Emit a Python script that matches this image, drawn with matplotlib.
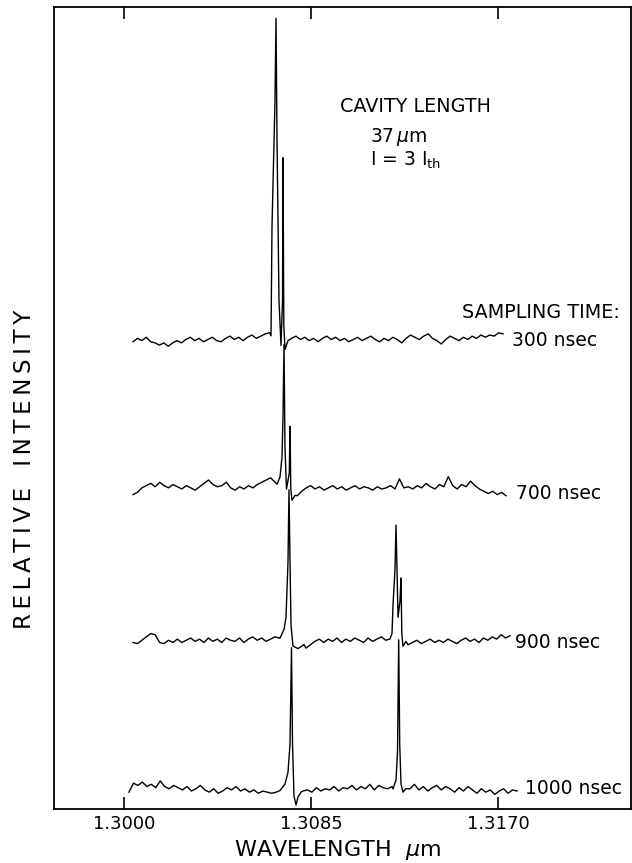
import numpy as np
import matplotlib
matplotlib.use("Agg")
import matplotlib.pyplot as plt

plt.rcParams['font.family'] = ['DejaVu Sans']
plt.rcParams['mathtext.fontset'] = 'dejavusans'

# sampling times and trace offsets (relative intensity, axis 0..1)
labels = ["300 nsec", "700 nsec", "900 nsec", "1000 nsec"]
baselines = [0.584, 0.399, 0.209, 0.021]
starts = [1.300409, 1.300409, 1.300409, 1.300227]
ends = [1.317227, 1.317364, 1.317545, 1.317864]

# baseline ripple, in units of 0.001
noise_300 = [-1, 2, 0, 3, -1, -2, -4, -2, -5, -2,
             0, -2, 1, 3, 0, 2, -1, 1, 3, 0,
             -1, 2, 4, 1, 3, 0, 3, 5, 2, 4,
             6, 7, 6, 2, 1, 2, 2, 4, 1, 3,
             0, 2, -1, 2, 4, 1, 3, 0, 2, -1,
             1, 3, 0, 2, 4, 1, -1, 2, 0, 3,
             1, -2, 2, 5, 3, 1, 4, 6, 2, 0,
             -3, 1, 4, 2, 0, 3, 1, 4, 2, 5,
             3, 5, 4, 7, 6]
noise_700 = [-5, -3, 1, 3, 5, 2, 6, 3, 1, 4,
             2, 0, 3, 1, -1, 2, 5, 8, 4, 2,
             3, 6, 1, -1, 2, 0, 3, 1, 4, 6,
             8, 10, 6, 2, 0, -4, -6, -6, -2, 1,
             3, 0, 2, -1, 1, 3, 0, 2, -1, 1,
             3, 0, 2, 1, -1, 2, 0, 1, 3, 0,
             9, 1, 2, 0, 3, 1, 5, 2, 0, 4,
             2, 11, 3, 0, 4, 2, 7, 3, 0, -2,
             -4, -2, -5, -3, -6]
noise_900 = [-1, -2, 1, 4, 7, 6, -1, -2, 1, -1,
             2, -1, 1, 3, 0, 2, -1, 3, 0, 2,
             -1, 3, 1, 0, 3, -1, 2, 4, 1, 3,
             0, 2, 4, 3, 5, 0, -6, -8, -9, -6,
             -3, 0, 2, -1, 2, 0, 3, -1, 2, 0,
             3, 1, -1, 3, 0, 2, 4, 1, 3, 2,
             3, 0, -3, -1, 1, -2, 0, 2, -1, 1,
             -1, 2, 0, -2, 1, 3, 0, 2, -1, 3,
             1, 4, 2, 6, 3, 5]
noise_1000 = [0, 8, 6, 9, 5, 7, 4, 10, 5, 3,
              6, 4, 2, 5, 1, 3, 6, 2, 0, 3,
              -1, 1, 4, 2, 5, 1, 3, 0, 2, -1,
              1, 0, -1, 0, 2, 0, -10, -5, 0, 1,
              2, 0, 4, 1, 3, 2, 5, 1, 4, 3,
              6, 2, 5, 3, 7, 2, 6, 4, 3, 5,
              4, 6, 3, 3, 7, 2, 5, 1, 4, 6,
              2, 5, 3, 0, 4, 1, 5, 2, -1, 3,
              0, 2, -2, 1, 3, -1, 2, 1]
noises = [noise_300, noise_700, noise_900, noise_1000]
noise_unit = 0.0014

# laser modes: wavelength (um) and height above the baseline
peaks_300 = [([1.306682, 1.306727, 1.306864, 1.306909, 1.306955, 1.307045,
               1.307136, 1.307205, 1.307227, 1.307264, 1.307318, 1.307455],
              [0.006, 0.142, 0.30, 0.402, 0.25, 0.05,
               -0.006, 0.05, 0.228, 0.02, -0.011, 0.0])]
peaks_700 = [([1.306955, 1.307091, 1.307182, 1.307227, 1.307273, 1.307318,
               1.307386, 1.307514, 1.307545, 1.307582, 1.307636, 1.307773],
              [0.006, 0.015, 0.04, 0.09, 0.18, 0.05,
               0.0, 0.02, 0.078, 0.0, -0.014, -0.008])]
peaks_900 = [([1.307091, 1.307273, 1.307364, 1.307455, 1.307500, 1.307545,
               1.307591, 1.307682, 1.307909, 1.308182],
              [0.004, 0.015, 0.03, 0.10, 0.189, 0.10,
               0.02, -0.006, -0.009, -0.004]),
             ([1.312091, 1.312182, 1.312227, 1.312318, 1.312364, 1.312409,
               1.312455, 1.312545, 1.312591, 1.312627, 1.312682, 1.312818],
              [0.003, 0.01, 0.045, 0.09, 0.145, 0.09,
               0.03, 0.05, 0.079, 0.01, -0.006, 0.0])]
peaks_1000 = [([1.307091, 1.307318, 1.307455, 1.307545, 1.307614, 1.307659,
                1.307727, 1.307818, 1.307909, 1.308045],
               [0.002, 0.01, 0.025, 0.06, 0.18, 0.06,
                -0.005, -0.016, -0.006, 0.0]),
              ([1.312227, 1.312364, 1.312432, 1.312486, 1.312532, 1.312591,
                1.312682],
               [0.004, 0.015, 0.05, 0.19, 0.06, 0.01, 0.0])]
peaks = [peaks_300, peaks_700, peaks_900, peaks_1000]

xticks = [1.3000, 1.3085, 1.3170]
xticklabels = ["1.3000", "1.3085", "1.3170"]

W, H = 632, 863
fig = plt.figure(figsize=(W / 100, H / 100), dpi=100)
ax = fig.add_axes([54 / W, 1 - 809 / H, (631 - 54) / W, (809 - 7) / H])

for base, x0, x1, nz, pk in zip(baselines, starts, ends, noises, peaks):
    wl = np.linspace(x0, x1, len(nz))
    val = np.array(nz) * noise_unit
    keep = np.ones(len(wl), bool)
    px, py = [], []
    for pw, ph in pk:
        keep &= ~((wl >= min(pw)) & (wl <= max(pw)))
        px += pw
        py += ph
    xs = np.concatenate([wl[keep], px])
    ys = np.concatenate([val[keep], py])
    order = np.argsort(xs)
    ax.plot(xs[order], ys[order] + base, color="black", lw=1.0)

ax.set_xlim(1.296818, 1.323045)
ax.set_ylim(0, 1)
ax.set_yticks([])
ax.set_xticks(xticks)
ax.set_xticklabels(xticklabels)
ax.tick_params(axis="x", direction="in", top=True, length=8.5, width=1.2,
               labelsize=13, pad=4)
for s in ax.spines.values():
    s.set_linewidth(1.3)

def ftext(x, y, s, size=13.5, **kw):
    fig.text(x / W, 1 - y / H, s, va="center", fontsize=size, **kw)

ftext(340, 107, "CAVITY LENGTH", size=13.8)
ftext(370, 137, r"37$\,\mu$m")
ftext(370, 160, r"I = 3 I$_{\mathrm{th}}$")
ftext(462, 313, "SAMPLING TIME:", size=13.8)
label_x = [512, 516, 515, 525]
label_y = [340, 493, 643, 788]
for lx, ly, lab in zip(label_x, label_y, labels):
    ftext(lx, ly, lab)
ftext(338, 850, r"WAVELENGTH  $\mu$m", size=16, ha="center")
ylab = "\u2009".join("RELATIVE") + "\u2009\u2009\u2009 " + "\u2009".join("INTENSITY")
ftext(25, 469, ylab, size=16.5, ha="center", rotation=90)

fig.savefig("out.png", dpi=100)
